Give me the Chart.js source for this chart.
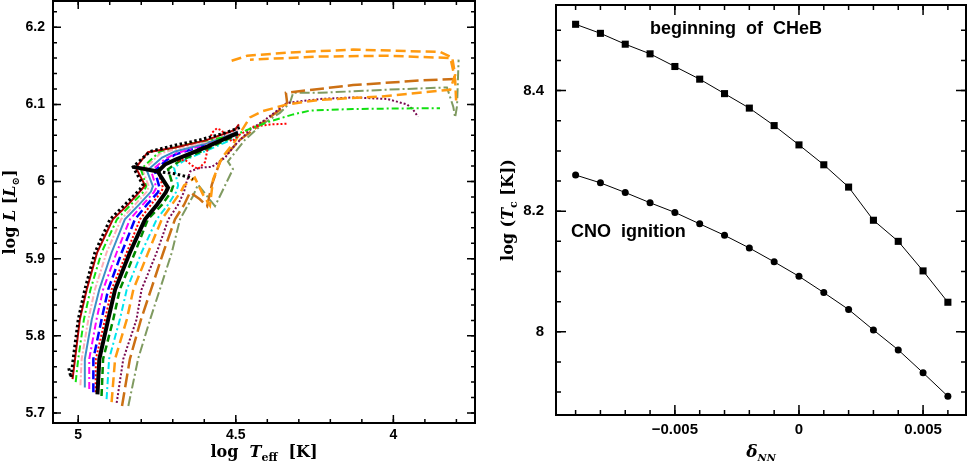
<!DOCTYPE html>
<html>
<head>
<meta charset="utf-8">
<script src="https://cdn.jsdelivr.net/npm/chart.js@4.4.1/dist/chart.umd.min.js"></script>
<style>
  body { margin: 0; background: #fff; }
  #wrap { position: relative; width: 971px; height: 465px; }
  canvas { position: absolute; top: 0; }
  #hr { left: 0; }
  #tc { left: 485px; }
</style>
</head>
<body>
<div id="wrap">
  <canvas id="hr" width="485" height="465"></canvas>
  <canvas id="tc" width="486" height="465"></canvas>
</div>
<script>
// ---- left panel: tracks as [log Teff, log L] ----
const trackBlackDotted = [[5.030,5.758],[5.023,5.746],[5.016,5.770],[5.000,5.821],[4.979,5.860],[4.947,5.908],[4.899,5.951],[4.852,5.970],[4.804,5.990],[4.795,5.996],[4.826,6.019],[4.772,6.039],[4.693,6.047],[4.614,6.054],[4.534,6.063],[4.487,6.070]];
const tailBlackDotted = [[4.747,6.013],[4.693,6.010],[4.652,6.006],[4.636,6.003]];
const trackDarkRed = [[5.018,5.744],[5.010,5.770],[4.995,5.821],[4.973,5.860],[4.940,5.908],[4.890,5.951],[4.842,5.970],[4.798,5.990],[4.788,5.995],[4.817,6.018],[4.779,6.038],[4.693,6.044],[4.598,6.053],[4.503,6.067],[4.490,6.074]];
const trackLime = [[5.008,5.740],[5.000,5.770],[4.982,5.821],[4.961,5.860],[4.926,5.908],[4.877,5.951],[4.833,5.970],[4.792,5.987],[4.784,5.994],[4.801,6.016],[4.741,6.039],[4.636,6.050],[4.528,6.058],[4.487,6.063],[4.445,6.070],[4.391,6.078],[4.318,6.087],[4.264,6.092],[4.128,6.094],[3.915,6.095],[3.852,6.095]];
const trackPink = [[4.993,5.736],[4.989,5.770],[4.968,5.821],[4.947,5.860],[4.910,5.908],[4.864,5.951],[4.820,5.970],[4.782,5.987],[4.776,5.994],[4.795,6.014],[4.741,6.036],[4.693,6.042],[4.598,6.051],[4.493,6.067]];
const trackSteel = [[4.979,5.733],[4.979,5.770],[4.957,5.821],[4.933,5.860],[4.894,5.908],[4.852,5.951],[4.807,5.970],[4.769,5.987],[4.763,5.994],[4.782,6.014],[4.734,6.031],[4.693,6.039],[4.598,6.049],[4.493,6.065]];
const trackMagenta = [[4.965,5.731],[4.965,5.770],[4.942,5.821],[4.921,5.860],[4.878,5.908],[4.836,5.951],[4.795,5.970],[4.760,5.986],[4.752,5.992],[4.769,6.014],[4.728,6.028],[4.693,6.036],[4.598,6.048],[4.493,6.063]];
const trackBlue = [[4.952,5.727],[4.952,5.770],[4.926,5.821],[4.905,5.860],[4.862,5.908],[4.820,5.951],[4.782,5.970],[4.747,5.986],[4.742,5.992],[4.757,6.014],[4.722,6.027],[4.693,6.035],[4.598,6.047],[4.493,6.062]];
const trackRedDotted = [[4.945,5.727],[4.944,5.770],[4.915,5.821],[4.894,5.860],[4.846,5.908],[4.804,5.951],[4.769,5.970],[4.737,5.986],[4.731,5.992],[4.747,6.014],[4.709,6.026],[4.661,6.028],[4.639,6.021],[4.620,6.016],[4.598,6.025],[4.588,6.045],[4.576,6.063],[4.560,6.069],[4.544,6.066],[4.531,6.058],[4.512,6.052],[4.487,6.061],[4.445,6.071],[4.391,6.074],[4.337,6.075]];
const trackBlackThick = [[4.939,5.724],[4.933,5.770],[4.905,5.821],[4.883,5.860],[4.836,5.908],[4.788,5.951],[4.750,5.970],[4.722,5.986],[4.715,5.992],[4.737,6.006],[4.747,6.013],[4.725,6.022],[4.693,6.028],[4.598,6.044],[4.493,6.063]];
const hookBlackThick = [[4.826,6.019],[4.747,6.013]];
const trackGreenDashed = [[4.926,5.722],[4.921,5.770],[4.889,5.821],[4.868,5.860],[4.820,5.908],[4.779,5.951],[4.734,5.970],[4.706,5.986],[4.699,5.994],[4.715,6.016],[4.677,6.027],[4.598,6.041],[4.493,6.061]];
const trackCyan = [[4.910,5.718],[4.902,5.770],[4.868,5.821],[4.846,5.860],[4.799,5.908],[4.751,5.951],[4.715,5.970],[4.690,5.986],[4.683,5.995],[4.696,6.018],[4.661,6.028],[4.598,6.039],[4.493,6.058]];
const trackOrange = [[4.894,5.714],[4.883,5.770],[4.846,5.821],[4.825,5.860],[4.778,5.908],[4.735,5.951],[4.703,5.970],[4.674,5.987],[4.664,5.995],[4.630,6.005],[4.604,5.983],[4.582,5.969],[4.572,6.003],[4.544,6.031],[4.503,6.052],[4.455,6.083],[4.417,6.091],[4.337,6.100],[4.233,6.106],[4.042,6.110],[3.820,6.119],[3.804,6.138],[3.813,6.160],[4.020,6.163],[4.233,6.162],[4.455,6.158]];
const trackOrangeUpper = [[3.801,6.105],[3.804,6.132],[3.820,6.162],[3.852,6.168],[4.128,6.171],[4.337,6.167],[4.464,6.163],[4.525,6.155]];
const trackPurple = [[4.878,5.713],[4.857,5.770],[4.815,5.821],[4.799,5.860],[4.751,5.908],[4.714,5.951],[4.683,5.970],[4.664,5.987],[4.658,5.997],[4.645,6.013],[4.614,6.018],[4.576,6.019],[4.534,6.031],[4.503,6.047],[4.455,6.067],[4.407,6.080],[4.337,6.102],[4.233,6.107],[4.128,6.109],[4.020,6.107],[3.957,6.100],[3.937,6.093],[3.922,6.084]];
const trackBrown = [[4.861,5.709],[4.836,5.770],[4.801,5.821],[4.769,5.860],[4.730,5.908],[4.693,5.951],[4.664,5.970],[4.645,5.986],[4.614,5.977],[4.591,5.968],[4.576,5.996],[4.550,6.026],[4.487,6.054],[4.423,6.074],[4.360,6.093],[4.337,6.102],[4.341,6.115],[4.128,6.125],[3.915,6.131],[3.804,6.133]];
const trackOlive = [[4.841,5.709],[4.810,5.770],[4.772,5.821],[4.741,5.860],[4.703,5.908],[4.677,5.951],[4.636,5.981],[4.620,5.996],[4.566,5.968],[4.509,6.016],[4.525,6.026],[4.471,6.054],[4.417,6.074],[4.360,6.089],[4.328,6.102],[4.318,6.115],[4.233,6.115],[4.020,6.119],[3.830,6.122],[3.810,6.097],[3.804,6.083],[3.798,6.098],[3.793,6.158]];

const teffTicks = [5, 4.5, 4];
const teffLabels = ['5', '4.5', '4'];
const lumTicks = [5.7, 5.8, 5.9, 6, 6.1, 6.2];
const lumLabels = ['5.7', '5.8', '5.9', '6', '6.1', '6.2'];

// ---- right panel ----
const deltaNN = [-0.009, -0.008, -0.007, -0.006, -0.005, -0.004, -0.003, -0.002, -0.001, 0, 0.001, 0.002, 0.003, 0.004, 0.005, 0.006];
const logTcCHeB = [8.510, 8.495, 8.477, 8.461, 8.440, 8.419, 8.395, 8.371, 8.342, 8.310, 8.277, 8.240, 8.185, 8.150, 8.101, 8.049];
const logTcCNO = [8.260, 8.247, 8.231, 8.214, 8.198, 8.179, 8.160, 8.139, 8.116, 8.092, 8.065, 8.037, 8.003, 7.970, 7.932, 7.893];
const deltaTicks = [-0.005, 0, 0.005];
const deltaLabels = ['\u22120.005', '0', '0.005'];
const tcTicks = [8, 8.2, 8.4];
const tcLabels = ['8', '8.2', '8.4'];

const serif = "'DejaVu Serif', 'Liberation Serif', serif";
const F = (style, size) => style + ' ' + size + 'px ' + serif;

// axis titles with italics and subscripts
const lumTitle = [
  { t: 'log ', font: F('bold', 16) },
  { t: 'L', font: F('italic bold', 16) },
  { t: ' [', font: F('bold', 16) },
  { t: 'L', font: F('italic bold', 16) },
  { t: '\u2299', font: F('bold', 10), dy: 4 },
  { t: ']', font: F('bold', 16) }
];
const teffTitle = [
  { t: 'log  ', font: F('bold', 16) },
  { t: 'T', font: F('italic bold', 16) },
  { t: 'eff', font: F('bold', 11), dy: 4 },
  { t: '  [K]', font: F('bold', 16) }
];
const tcTitle = [
  { t: 'log (', font: F('bold', 16) },
  { t: 'T', font: F('italic bold', 16) },
  { t: 'c', font: F('bold', 11), dy: 4 },
  { t: ' [K])', font: F('bold', 16) }
];
const deltaTitle = [
  { t: '\u03b4', font: F('italic bold', 17) },
  { t: 'NN', font: F('italic bold', 10), dy: 4 }
];

function drawRich(ctx, parts, cx, cy, angle) {
  ctx.save();
  ctx.translate(cx, cy);
  ctx.rotate(angle);
  ctx.fillStyle = '#000';
  ctx.textBaseline = 'alphabetic';
  let w = 0;
  parts.forEach(p => { ctx.font = p.font; w += ctx.measureText(p.t).width; });
  let px = -w / 2;
  parts.forEach(p => {
    ctx.font = p.font;
    ctx.fillText(p.t, px, p.dy || 0);
    px += ctx.measureText(p.t).width;
  });
  ctx.restore();
}

// frame + inward ticks on all four sides
function frameTicks(xMinor, yMinor, major, minor) {
  return {
    id: 'frameTicks',
    afterDatasetsDraw(chart) {
      const { ctx, chartArea: a, scales: { x, y } } = chart;
      const steps = (s, step) => {
        const out = [];
        const lo = Math.min(s.min, s.max), hi = Math.max(s.min, s.max);
        for (let i = Math.ceil(lo / step - 1e-6); i * step <= hi + 1e-9; i++) out.push(i * step);
        return out;
      };
      const mark = (s, vals, len, horiz) => {
        vals.forEach(v => {
          const p = s.getPixelForValue(v);
          ctx.beginPath();
          if (horiz) {
            ctx.moveTo(p, a.bottom); ctx.lineTo(p, a.bottom - len);
            ctx.moveTo(p, a.top); ctx.lineTo(p, a.top + len);
          } else {
            ctx.moveTo(a.left, p); ctx.lineTo(a.left + len, p);
            ctx.moveTo(a.right, p); ctx.lineTo(a.right - len, p);
          }
          ctx.stroke();
        });
      };
      ctx.save();
      ctx.strokeStyle = '#000';
      ctx.lineWidth = 1.5;
      mark(x, steps(x, xMinor), minor, true);
      mark(y, steps(y, yMinor), minor, false);
      mark(x, x.ticks.map(t => t.value), major, true);
      mark(y, y.ticks.map(t => t.value), major, false);
      ctx.lineWidth = 2;
      ctx.strokeRect(a.left, a.top, a.right - a.left, a.bottom - a.top);
      ctx.restore();
    }
  };
}

function titles(xParts, yParts, xBase, yBase) {
  return {
    id: 'titles',
    afterDraw(chart) {
      const a = chart.chartArea;
      drawRich(chart.ctx, xParts, (a.left + a.right) / 2, xBase, 0);
      drawRich(chart.ctx, yParts, yBase, (a.top + a.bottom) / 2, -Math.PI / 2);
    }
  };
}

function notes(items) {
  return {
    id: 'notes',
    afterDraw(chart) {
      const { ctx, scales: { x, y } } = chart;
      ctx.save();
      ctx.fillStyle = '#000';
      ctx.font = "bold 18px 'Liberation Sans', Arial, sans-serif";
      ctx.textBaseline = 'middle';
      ctx.textAlign = 'left';
      items.forEach(n => ctx.fillText(n.text, x.getPixelForValue(n.x), y.getPixelForValue(n.y)));
      ctx.restore();
    }
  };
}

const tickFont = size => ({ family: "'Liberation Sans', Arial, sans-serif", size: size, weight: 'bold' });

// the axes keep no extra room for the end labels
const noPad = s => { s.paddingTop = 0; s.paddingBottom = 0; s.paddingLeft = 0; s.paddingRight = 0; };

function track(pts, color, width, dash) {
  return {
    data: pts.map(p => ({ x: p[0], y: p[1] })),
    showLine: true,
    borderColor: color,
    borderWidth: width,
    borderDash: dash,
    pointRadius: 0,
    tension: 0,
    fill: false
  };
}

const hidden = { display: false, drawTicks: false };

new Chart(document.getElementById('hr'), {
  type: 'scatter',
  data: {
    datasets: [
      track(trackBlackDotted, '#000000', 3, [2.5, 2.5]),
      track(tailBlackDotted, '#000000', 3, [2.5, 2.5]),
      track(trackBlackThick, '#000000', 4, []),
      track(hookBlackThick, '#000000', 4, []),
      track(trackDarkRed, '#b00000', 2, []),
      track(trackLime, '#11e011', 2, [7, 3, 2, 3]),
      track(trackPink, '#ffb0b8', 2, [6, 2, 2, 2]),
      track(trackSteel, '#3d8fc6', 2, []),
      track(trackMagenta, '#ff00ff', 2, [7, 3, 2, 3]),
      track(trackBlue, '#0000ff', 2.5, [9, 4]),
      track(trackRedDotted, '#ff0000', 2, [2, 2]),
      track(trackGreenDashed, '#008c00', 2.5, [7, 4]),
      track(trackCyan, '#00e5ee', 2, [7, 3, 2, 3]),
      track(trackOrange, '#ff9a10', 2.5, [10, 5]),
      track(trackOrangeUpper, '#ff9a10', 2.5, [10, 5]),
      track(trackPurple, '#7a0a50', 2, [2, 2]),
      track(trackBrown, '#cc7014', 2.5, [14, 5]),
      track(trackOlive, '#7f9a60', 2, [10, 3, 2, 3])
    ]
  },
  options: {
    responsive: false,
    animation: false,
    layout: { padding: { top: 1, right: 10, left: 0, bottom: 0 } },
    plugins: { legend: { display: false }, tooltip: { enabled: false } },
    scales: {
      x: {
        type: 'linear', reverse: true, min: 3.741, max: 5.080,
        afterBuildTicks: s => { s.ticks = teffTicks.map(v => ({ value: v })); },
        afterFit: s => { s.height = 42; noPad(s); },
        ticks: { autoSkip: false, maxRotation: 0, padding: 4, color: '#000', font: tickFont(14),
                 callback: (v, i) => teffLabels[i] },
        grid: hidden, border: { display: false }
      },
      y: {
        type: 'linear', min: 5.687, max: 6.234,
        afterBuildTicks: s => { s.ticks = lumTicks.map(v => ({ value: v })); },
        afterFit: s => { s.width = 53; noPad(s); },
        ticks: { autoSkip: false, padding: 8, color: '#000', font: tickFont(14),
                 callback: (v, i) => lumLabels[i] },
        grid: hidden, border: { display: false }
      }
    }
  },
  plugins: [frameTicks(0.1, 0.02, 8, 4), titles(teffTitle, lumTitle, 457, 15)]
});

new Chart(document.getElementById('tc'), {
  type: 'scatter',
  data: {
    datasets: [
      {
        data: deltaNN.map((d, i) => ({ x: d, y: logTcCHeB[i] })),
        showLine: true, borderColor: '#000', borderWidth: 1,
        pointStyle: 'rect', pointRadius: 5, pointBackgroundColor: '#000', pointBorderWidth: 0
      },
      {
        data: deltaNN.map((d, i) => ({ x: d, y: logTcCNO[i] })),
        showLine: true, borderColor: '#000', borderWidth: 1,
        pointStyle: 'circle', pointRadius: 3.5, pointBackgroundColor: '#000', pointBorderWidth: 0
      }
    ]
  },
  options: {
    responsive: false,
    animation: false,
    layout: { padding: { top: 1, right: 2, left: 0, bottom: 0 } },
    plugins: { legend: { display: false }, tooltip: { enabled: false } },
    scales: {
      x: {
        type: 'linear', min: -0.00979, max: 0.00673,
        afterBuildTicks: s => { s.ticks = deltaTicks.map(v => ({ value: v })); },
        afterFit: s => { s.height = 50; noPad(s); },
        ticks: { autoSkip: false, maxRotation: 0, padding: 6, color: '#000', font: tickFont(15),
                 callback: (v, i) => deltaLabels[i] },
        grid: hidden, border: { display: false }
      },
      y: {
        type: 'linear', min: 7.862, max: 8.542,
        afterBuildTicks: s => { s.ticks = tcTicks.map(v => ({ value: v })); },
        afterFit: s => { s.width = 71; noPad(s); },
        ticks: { autoSkip: false, padding: 12, color: '#000', font: tickFont(15),
                 callback: (v, i) => tcLabels[i] },
        grid: hidden, border: { display: false }
      }
    }
  },
  plugins: [
    frameTicks(0.001, 0.05, 10, 5),
    titles(deltaTitle, tcTitle, 457, 28),
    notes([
      { text: 'beginning  of  CHeB', x: -0.0060, y: 8.502 },
      { text: 'CNO  ignition', x: -0.00919, y: 8.166 }
    ])
  ]
});
</script>
</body>
</html>
